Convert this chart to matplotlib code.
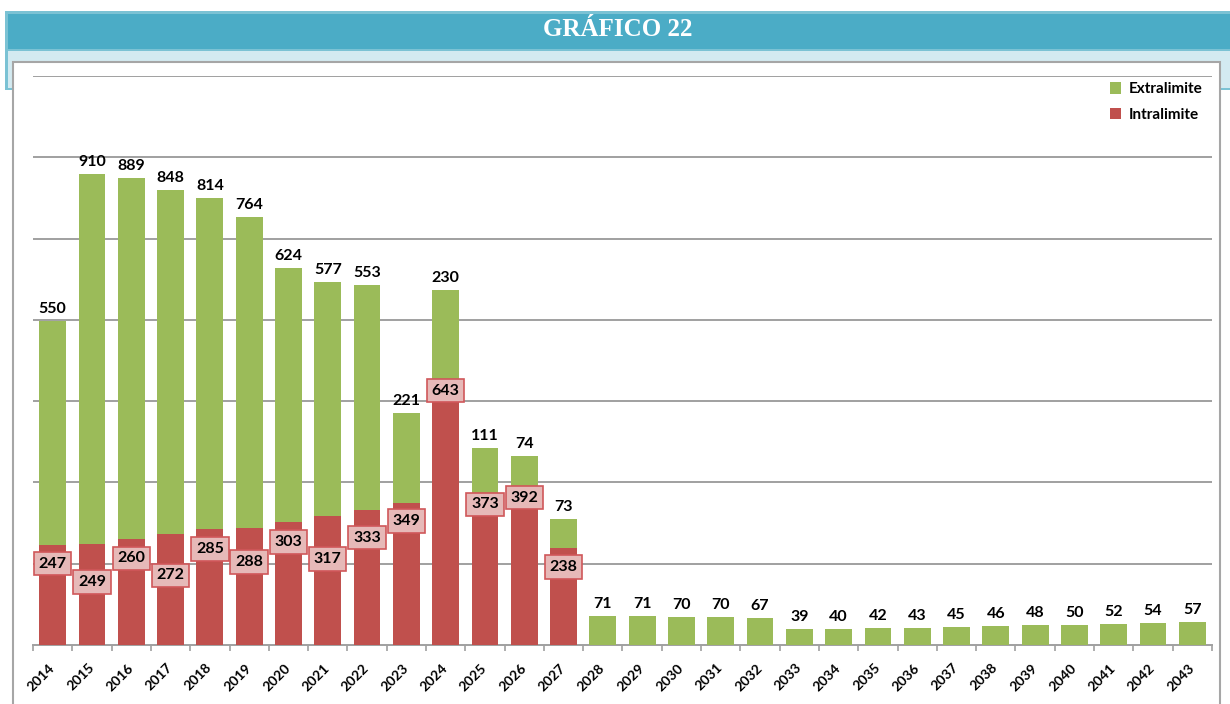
import matplotlib
matplotlib.use("Agg")
import matplotlib.pyplot as plt
from matplotlib.patches import Rectangle
from matplotlib.ticker import FixedLocator
import numpy as np

years = [str(y) for y in range(2014, 2044)]
intralimite = [247, 249, 260, 272, 285, 288, 303, 317, 333, 349, 643, 373, 392, 238,
               0, 0, 0, 0, 0, 0, 0, 0, 0, 0, 0, 0, 0, 0, 0, 0]
extralimite = [550, 910, 889, 848, 814, 764, 624, 577, 553, 221, 230, 111, 74, 73,
               71, 71, 70, 70, 67, 39, 40, 42, 43, 45, 46, 48, 50, 52, 54, 57]
title = "GRÁFICO 22"

# style: pixel offsets of the red label boxes below the top of the red segment
red_label_drop = [19, 38, 19, 41, 20, 34, 20, 43, 28, 18, 7, 11, 12, 19]

W, H = 1230, 704
fig = plt.figure(figsize=(W / 100, H / 100), dpi=100)
fig.patch.set_facecolor("white")

def px_rect(x0, y0, x1, y1, **kw):
    r = Rectangle((x0 / W, 1 - y1 / H), (x1 - x0) / W, (y1 - y0) / H,
                  transform=fig.transFigure, figure=fig, **kw)
    fig.patches.append(r)

# header
px_rect(5, 11, 1232, 90, facecolor="#7BC2D4", edgecolor="none", zorder=0)
px_rect(8, 14, 1232, 49, facecolor="#4BACC6", edgecolor="none", zorder=1)
px_rect(8, 51, 1232, 88, facecolor="#D3EAF1", edgecolor="none", zorder=1)
# white panel
px_rect(13, 62, 1220, 712, facecolor="white", edgecolor="#A6A6A6", linewidth=1.5, zorder=2)
fig.text(618 / W, 1 - 30 / H, title, color="white", fontsize=18, fontweight="bold",
         family="Liberation Serif", ha="center", va="center", zorder=3)

ax = fig.add_axes([33 / W, 59 / H, (1212 - 33) / W, (645 - 76) / H], zorder=5)
ax.patch.set_alpha(0)

x = np.arange(len(years))
green = "#9BBB59"
red = "#C0504D"
bw = 0.68
ax.bar(x, intralimite, bw, color=red, label="Intralimite", zorder=3)
ax.bar(x, extralimite, bw, bottom=intralimite, color=green, label="Extralimite", zorder=3)

ax.set_xlim(-0.5, len(years) - 0.5)
ax.set_ylim(0, 1400)
ax.set_yticks(np.arange(200, 1401, 200))
ax.yaxis.grid(True, color="#A0A0A0", linewidth=1.4)
ax.set_axisbelow(True)
ax.tick_params(axis="y", left=False, labelleft=False)
for s in ["left", "right", "top"]:
    ax.spines[s].set_visible(False)
ax.spines["bottom"].set_color("#A0A0A0")
ax.spines["bottom"].set_linewidth(1.4)

ax.set_xticks(x)
ax.set_xticklabels(years, rotation=45, ha="right", va="center", rotation_mode="anchor",
                   fontsize=10, fontweight="bold", family="Lato")
ax.tick_params(axis="x", length=0, pad=15)
ax.xaxis.set_minor_locator(FixedLocator(np.arange(-0.5, len(years), 1.0)))
ax.tick_params(axis="x", which="minor", length=4, color="#A0A0A0", width=1.2, direction="out")

lab_font = dict(fontsize=11.5, fontweight="bold", family="Lato", color="black")
for i in range(len(years)):
    total = intralimite[i] + extralimite[i]
    ax.annotate(str(extralimite[i]), (x[i], total), xytext=(0, 5), textcoords="offset pixels",
                ha="center", va="bottom", zorder=6, **lab_font)
    if intralimite[i] > 0:
        ax.annotate(str(intralimite[i]), (x[i], intralimite[i]),
                    xytext=(0, -red_label_drop[i]), textcoords="offset pixels",
                    ha="center", va="center", zorder=6,
                    bbox=dict(boxstyle="square,pad=0.3", facecolor="#E6B9B8",
                              edgecolor="#D0575A", linewidth=1.2), **lab_font)

handles, labels = ax.get_legend_handles_labels()
leg = ax.legend(handles[::-1], labels[::-1], loc="upper right", bbox_to_anchor=(1.0, 1.005),
                frameon=False, handlelength=0.75, handleheight=0.75, handletextpad=0.5,
                labelspacing=0.75, borderaxespad=0.2,
                prop=dict(family="Lato", weight="bold", size=11))

fig.savefig("out.png", dpi=100)
